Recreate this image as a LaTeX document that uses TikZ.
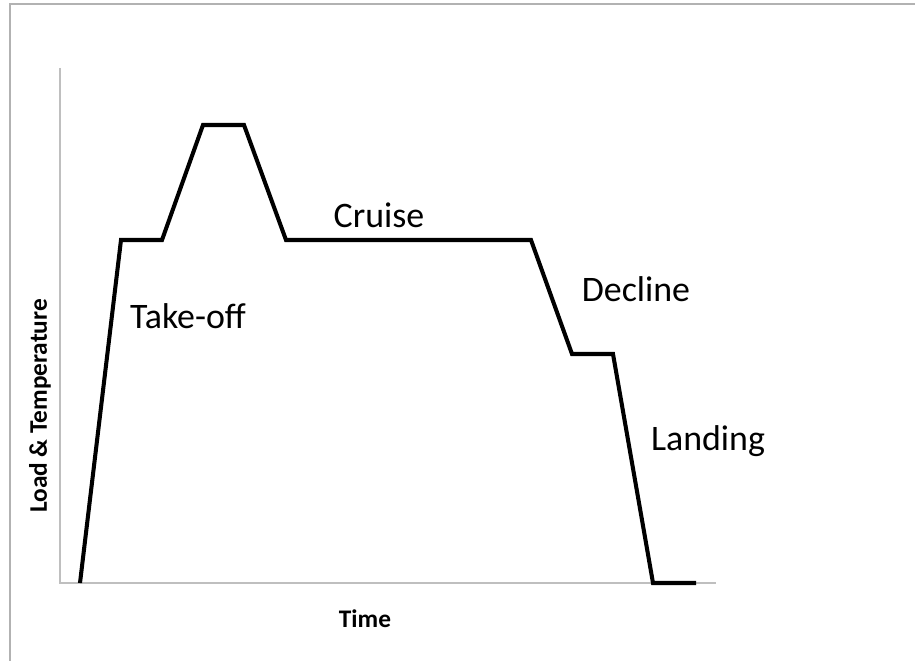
\documentclass[tikz,border=0pt]{standalone}
\usepackage{fontspec}
\setmainfont{Carlito}
\usepackage{tikz}

\begin{document}
\begin{tikzpicture}[x=0.01cm,y=-0.01cm,
		axis/.style={draw=black!25,line width=0.3pt},
		phase/.style={font=\fontsize{10.2}{12}\selectfont},
		axlabel/.style={font=\fontsize{7.2}{8}\selectfont\bfseries}]
			\useasboundingbox (0,0) rectangle (915,661);
			\draw[black!30,line width=0.45pt] (10,661) -- (10,4) -- (915,4);

			\draw[axis] (60,68) -- (60,583) -- (716,583);

			\draw[line width=1.15pt,line join=miter] (80,583) -- (121,240) -- (162,240) -- (203,125) -- (244,125) -- (286,240) -- (531,240) -- (572,354) -- (613,354) -- (653,583) -- (696,583);

			\node[phase] (cruise) at (379,215) {Cruise};
			\node[phase] (takeoff) at (188,316) {Take-off};
			\node[phase] (decline) at (636,289) {Decline};
			\node[phase] (landing) at (708,441) {Landing};

			\node[axlabel] (time) at (365,619) {Time};
			\node[axlabel,rotate=90] (load) at (40,406) {Load \& Temperature};
		\end{tikzpicture}
\end{document}
